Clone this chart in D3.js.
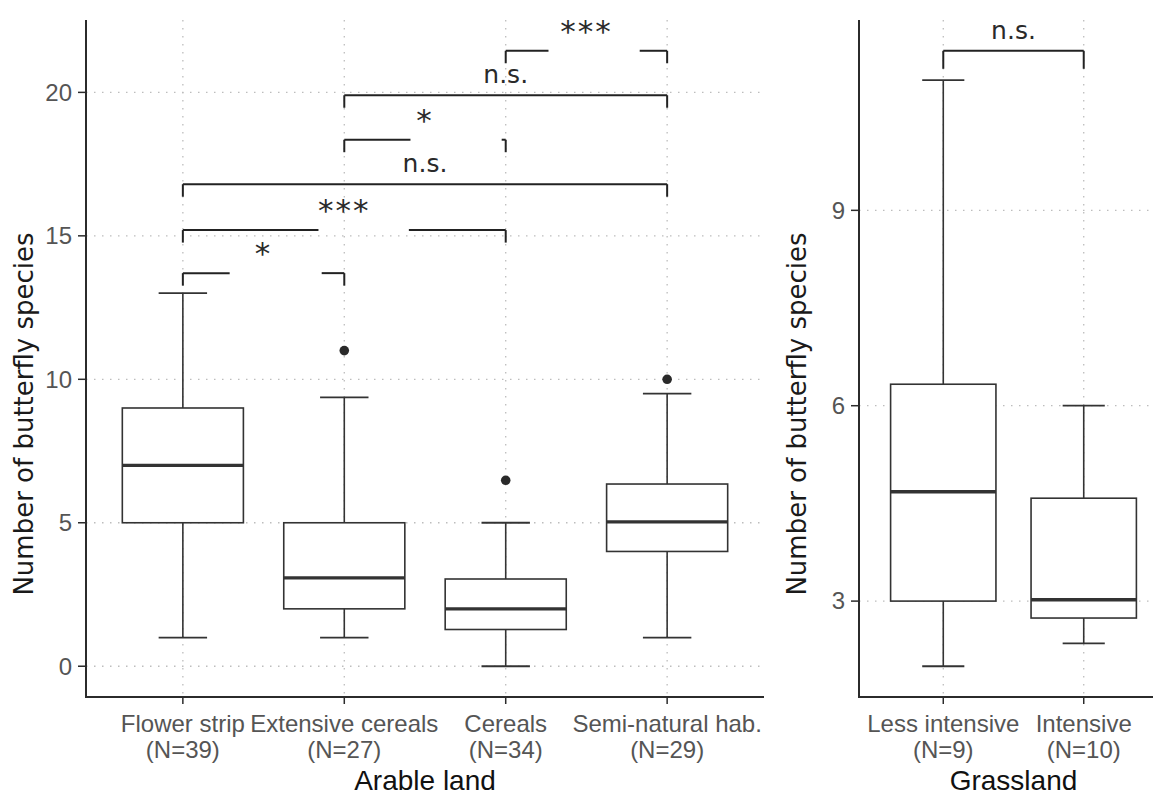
<!DOCTYPE html>
<html>
<head>
<meta charset="utf-8">
<script src="https://cdn.jsdelivr.net/npm/d3@7"></script>
<style>
  body { margin: 0; background: #fff; }
  svg { display: block; }
  .tick-label { font-family: "Liberation Sans", Arial, sans-serif; fill: #555; }
  .x-title { font-family: "Liberation Sans", Arial, sans-serif; fill: #111; }
  .y-title { font-family: "DejaVu Sans", Verdana, sans-serif; fill: #1a1a1a; }
  .sig { font-family: "DejaVu Sans", Verdana, sans-serif; fill: #2a2a2a; }
</style>
</head>
<body>
<svg id="chart" width="1153" height="797"></svg>
<script>
// ---- Data: arable land ----
const arableCats = ["Flower strip", "Extensive cereals", "Cereals", "Semi-natural hab."];
const arableN = [39, 27, 34, 29];
const arableLow = [1, 1, 0, 1];
const arableQ1 = [5, 2, 1.28, 4];
const arableMed = [7, 3.08, 2, 5.03];
const arableQ3 = [9, 5, 3.04, 6.35];
const arableHigh = [13, 9.37, 5, 9.5];
const arableOut = [[], [11], [6.48], [10]];
const arableTicks = [0, 5, 10, 15, 20];
// pairwise tests: [group a, group b, bracket height, label]
const arableTests = [
  [0, 1, 13.7, "*"],
  [0, 2, 15.2, "***"],
  [0, 3, 16.8, "n.s."],
  [1, 2, 18.35, "*"],
  [1, 3, 19.9, "n.s."],
  [2, 3, 21.45, "***"]
];

// ---- Data: grassland ----
const grassCats = ["Less intensive", "Intensive"];
const grassN = [9, 10];
const grassLow = [2, 2.35];
const grassQ1 = [3, 2.74];
const grassMed = [4.68, 3.02];
const grassQ3 = [6.33, 4.58];
const grassHigh = [11, 6];
const grassOut = [[], []];
const grassTicks = [3, 6, 9];
const grassTests = [
  [0, 1, 11.45, "n.s."]
];

// broken bracket lines in the original (fraction of bracket span left blank)
const arableGaps = [[0.29, 0.86], [0.42, 0.70], null, [0.41, 0.975], null, [0.265, 0.83]];
const grassGaps = [null];

// ---- Layout ----
const panelTop = 20, panelBottom = 697;
const svg = d3.select("#chart");
svg.append("rect").attr("width", 1153).attr("height", 797).attr("fill", "#fff");

function drawPanel(p) {
  const g = svg.append("g");

  const allVals = p.low.concat(p.high, p.out.flat(), p.tests.map(t => t[2]));
  const lo = d3.min(allVals), hi = d3.max(allVals);
  const pad = (hi - lo) * 0.05;
  const y = d3.scaleLinear().domain([lo - pad, hi + pad]).range([panelBottom, panelTop]);
  const x = d3.scalePoint().domain(p.cats).range([p.left, p.right]).padding(0.6);
  const step = x.step();

  // grid
  const grid = g.append("g")
    .attr("stroke", "#bdbdbd").attr("stroke-width", 1.3).attr("stroke-dasharray", "1.5,6.5");
  grid.selectAll(".gy").data(p.ticks).join("line")
    .attr("x1", p.left).attr("x2", p.right)
    .attr("y1", d => y(d)).attr("y2", d => y(d));
  grid.selectAll(".gx").data(p.cats).join("line")
    .attr("x1", d => x(d)).attr("x2", d => x(d))
    .attr("y1", panelTop).attr("y2", panelBottom);

  // boxes
  const stats = p.cats.map((c, i) => ({
    c, low: p.low[i], q1: p.q1[i], med: p.med[i], q3: p.q3[i], high: p.high[i], out: p.out[i]
  }));
  const bw = step * 0.75, cw = step * 0.3;
  const box = g.selectAll(".box").data(stats).join("g").attr("stroke", "#333").attr("fill", "none");
  box.append("line")
    .attr("x1", d => x(d.c)).attr("x2", d => x(d.c))
    .attr("y1", d => y(d.low)).attr("y2", d => y(d.high))
    .attr("stroke-width", 1.6);
  box.append("line")
    .attr("x1", d => x(d.c) - cw / 2).attr("x2", d => x(d.c) + cw / 2)
    .attr("y1", d => y(d.high)).attr("y2", d => y(d.high))
    .attr("stroke-width", 1.8);
  box.append("line")
    .attr("x1", d => x(d.c) - cw / 2).attr("x2", d => x(d.c) + cw / 2)
    .attr("y1", d => y(d.low)).attr("y2", d => y(d.low))
    .attr("stroke-width", 1.8);
  box.append("rect")
    .attr("x", d => x(d.c) - bw / 2).attr("width", bw)
    .attr("y", d => y(d.q3)).attr("height", d => y(d.q1) - y(d.q3))
    .attr("fill", "#fff").attr("stroke-width", 1.6);
  box.append("line")
    .attr("x1", d => x(d.c) - bw / 2).attr("x2", d => x(d.c) + bw / 2)
    .attr("y1", d => y(d.med)).attr("y2", d => y(d.med))
    .attr("stroke-width", 3.4);
  box.selectAll("circle").data(d => d.out.map(v => ({ c: d.c, v }))).join("circle")
    .attr("cx", d => x(d.c)).attr("cy", d => y(d.v)).attr("r", 4.8)
    .attr("fill", "#2a2a2a").attr("stroke", "none");

  // significance brackets
  const br = g.append("g").attr("stroke", "#222").attr("stroke-width", 2).attr("fill", "none");
  p.tests.forEach((t, i) => {
    const xa = x(p.cats[t[0]]), xb = x(p.cats[t[1]]), yy = y(t[2]);
    br.append("line").attr("x1", xa).attr("x2", xa).attr("y1", yy).attr("y2", yy + p.tip);
    br.append("line").attr("x1", xb).attr("x2", xb).attr("y1", yy).attr("y2", yy + p.tip);
    const gap = p.gaps[i];
    if (gap) {
      br.append("line").attr("x1", xa).attr("x2", xa + (xb - xa) * gap[0]).attr("y1", yy).attr("y2", yy);
      br.append("line").attr("x1", xa + (xb - xa) * gap[1]).attr("x2", xb).attr("y1", yy).attr("y2", yy);
    } else {
      br.append("line").attr("x1", xa).attr("x2", xb).attr("y1", yy).attr("y2", yy);
    }
    const stars = t[3] !== "n.s.";
    g.append("text").attr("class", "sig")
      .attr("x", (xa + xb) / 2).attr("y", yy - (stars ? 9 : 12))
      .attr("text-anchor", "middle")
      .style("font-size", stars ? "31px" : "25px")
      .style("letter-spacing", stars ? "2px" : "0px")
      .text(t[3]);
  });

  // axes
  const ax = g.append("g").attr("stroke", "#2b2b2b");
  ax.append("line").attr("x1", p.left).attr("x2", p.left).attr("y1", panelTop).attr("y2", panelBottom).attr("stroke-width", 2);
  ax.append("line").attr("x1", p.left - 1).attr("x2", p.right).attr("y1", panelBottom).attr("y2", panelBottom).attr("stroke-width", 2);
  ax.selectAll(".ty").data(p.ticks).join("line")
    .attr("x1", p.left - 8).attr("x2", p.left).attr("y1", d => y(d)).attr("y2", d => y(d)).attr("stroke-width", 1.5);
  ax.selectAll(".tx").data(p.cats).join("line")
    .attr("x1", d => x(d)).attr("x2", d => x(d)).attr("y1", panelBottom).attr("y2", panelBottom + 7).attr("stroke-width", 1.5);

  g.selectAll(".yl").data(p.ticks).join("text").attr("class", "tick-label")
    .attr("x", p.left - 14).attr("y", d => y(d)).attr("dy", "0.35em")
    .attr("text-anchor", "end").style("font-size", "24px")
    .text(d => d);

  const xl = g.selectAll(".xl").data(p.cats).join("text").attr("class", "tick-label")
    .attr("text-anchor", "middle").style("font-size", "24px");
  xl.append("tspan").attr("x", d => x(d)).attr("y", 732).text(d => d);
  xl.append("tspan").attr("x", d => x(d)).attr("y", 758).text((d, i) => `(N=${p.n[i]})`);

  g.append("text").attr("class", "x-title")
    .attr("x", (p.left + p.right) / 2).attr("y", 790)
    .attr("text-anchor", "middle").style("font-size", "28px")
    .text(p.title);

  g.append("text").attr("class", "y-title")
    .attr("transform", `translate(${p.left - 53},${p.titleY}) rotate(-90)`)
    .attr("text-anchor", "middle").style("font-size", "26px")
    .text("Number of butterfly species");
}

drawPanel({
  cats: arableCats, n: arableN, low: arableLow, q1: arableQ1, med: arableMed, q3: arableQ3,
  high: arableHigh, out: arableOut, ticks: arableTicks, tests: arableTests, gaps: arableGaps,
  left: 86, right: 764, tip: 12.5, title: "Arable land", titleY: 414
});

drawPanel({
  cats: grassCats, n: grassN, low: grassLow, q1: grassQ1, med: grassMed, q3: grassQ3,
  high: grassHigh, out: grassOut, ticks: grassTicks, tests: grassTests, gaps: grassGaps,
  left: 859, right: 1168, tip: 18, title: "Grassland", titleY: 414
});
</script>
</body>
</html>
